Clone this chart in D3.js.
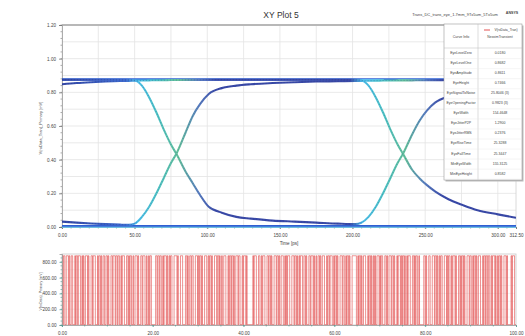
<!DOCTYPE html>
<html><head><meta charset="utf-8">
<script src="https://cdn.jsdelivr.net/npm/d3@7"></script>
<style>
body{margin:0;background:#fff;}
svg{display:block;font-family:"Liberation Sans Narrow","Liberation Sans",Arial,sans-serif;}
</style>
</head><body><svg id="c" width="525" height="336"></svg>
<script>
// ---------------- DATA ----------------
const eyeTime = [0,10,20,30,40,46,50,55,60,65,70,75,79,85,90,95,101,110,120,130,145,160,175,190,202,206,211,216,221,226,231,235,241,246,251,257,266,276,286,300,312.5];
// trace: previous rise tail -> high -> second falling edge
const traceA = [0.848,0.855,0.860,0.864,0.867,0.868,0.869,0.870,0.871,0.872,0.872,0.873,0.873,0.874,0.874,0.874,0.875,0.875,0.875,0.875,0.875,0.875,0.875,0.875,0.875,0.872,0.84,0.77,0.68,0.58,0.49,0.43,0.34,0.29,0.25,0.21,0.165,0.13,0.10,0.075,0.055];
// trace: high -> first falling edge -> low tail -> second rising edge
const traceB = [0.875,0.875,0.875,0.875,0.875,0.875,0.872,0.84,0.77,0.68,0.58,0.49,0.43,0.33,0.26,0.19,0.12,0.085,0.06,0.05,0.038,0.032,0.026,0.02,0.017,0.025,0.06,0.12,0.20,0.29,0.38,0.44,0.55,0.63,0.69,0.74,0.775,0.795,0.81,0.822,0.83];
// trace: previous fall tail -> first rising edge -> high
const traceC = [0.032,0.026,0.021,0.017,0.014,0.013,0.02,0.06,0.12,0.20,0.29,0.38,0.44,0.56,0.66,0.73,0.79,0.825,0.84,0.848,0.855,0.86,0.864,0.866,0.868,0.868,0.869,0.869,0.87,0.87,0.871,0.871,0.871,0.872,0.872,0.872,0.873,0.873,0.874,0.874,0.874];
const levelHigh = 0.876;
const levelLow = 0.007;
const levelLow2 = 0.0;

const eyeYTicks = [0,0.2,0.4,0.6,0.8,1.0,1.2];
const eyeXTicks = [0,50,100,150,200,250,300,312.5];

const statNames = ["EyeLevelZero","EyeLevelOne","EyeAmplitude","EyeHeight","EyeSignalToNoise","EyeOpeningFactor","EyeWidth","EyeJitterP2P","EyeJitterRMS","EyeRiseTime","EyeFallTime","MinEyeWidth","MinEyeHeight"];
const statValues = ["0.0180","0.8682","0.8611","0.7466","25.8046 (3)","0.9823 (3)","154.4648","1.2900","0.2376","25.3288","25.3447","155.3125","0.8582"];

// bit stream of the time-domain waveform (bottom plot)
const bitRows = [
"1011001110100110001011011100101001110100",
"0110111000101101001100110100011011101101",
"1001011100011010110010011101000110111001",
"0010110000001101101100101110100101100011",
"1101000111000011010011011000111010110100",
"0111001011010001110110100100111000101101",
"1010011101100010111010000000010111000110",
"0101110001101101000111011010011100101011",
"1000111011010010111001101000110111010010",
"0110100111000101101110010110100011101100",
"1011010001111110010110100111000101101001",
"0100111010110001101001110110100010111010",
"1101001011100011010110010000001101000110",
"0011101101001011000111010110010111010001",
"1010110100011101100101101001110001011011",
"0110010111010010110100011101000001011100"
];
const bitTimeNs = 0.15625;
const bitHighMv = 878;
const bitLowMv = 4;
const wfYTicks = [0,200,400,600,800];
const wfXTicks = [0,20,40,60,80,100];

// ---------------- DRAW ----------------
const svg = d3.select("#c");
const P1 = {l:62, r:516, t:25, b:227};
const P2 = {l:62, r:516, t:254, b:325};

const x1 = d3.scaleLinear().domain([0,312.5]).range([P1.l, P1.r]);
const y1 = d3.scaleLinear().domain([0,1.2]).range([P1.b, P1.t]);
const x2 = d3.scaleLinear().domain([0,100]).range([P2.l, P2.r]);
const y2 = d3.scaleLinear().domain([0,900]).range([P2.b, P2.t]);

const defs = svg.append("defs");
defs.append("clipPath").attr("id","cp1").append("rect")
  .attr("x",P1.l).attr("y",P1.t-2).attr("width",P1.r-P1.l).attr("height",P1.b-P1.t+4);
defs.append("clipPath").attr("id","cp2").append("rect")
  .attr("x",P2.l).attr("y",P2.t).attr("width",P2.r-P2.l).attr("height",P2.b-P2.t);

// Title and header texts
svg.append("text").attr("x",281).attr("y",18).attr("text-anchor","middle")
  .attr("font-size",8.5).attr("fill","#333").text("XY Plot 5");
svg.append("text").attr("x",455).attr("y",16).attr("text-anchor","middle")
  .attr("font-size",4).attr("fill","#444").text("Trans_DC_trans_eye_1.7mm_9Tx5um_5Tx5um");
svg.append("text").attr("x",512).attr("y",14).attr("text-anchor","middle")
  .attr("font-size",3.6).attr("fill","#444").attr("font-weight","bold").text("ANSYS");

// ---- top plot grid ----
const g1 = svg.append("g");
g1.selectAll("line.hg").data(d3.range(0,1.2001,0.1)).join("line")
  .attr("x1",P1.l).attr("x2",P1.r).attr("y1",d=>y1(d)).attr("y2",d=>y1(d))
  .attr("stroke","#e3e3e3").attr("stroke-width",0.8);
g1.selectAll("line.vg").data(d3.range(0,312.5,25)).join("line")
  .attr("y1",P1.t).attr("y2",P1.b).attr("x1",d=>x1(d)).attr("x2",d=>x1(d))
  .attr("stroke","#e3e3e3").attr("stroke-width",0.8);
g1.append("line").attr("x1",P1.l).attr("x2",P1.r).attr("y1",P1.t).attr("y2",P1.t)
  .attr("stroke","#b8b8b8").attr("stroke-width",1.8);
g1.append("line").attr("x1",P1.r).attr("x2",P1.r).attr("y1",P1.t).attr("y2",P1.b)
  .attr("stroke","#d0d0d0").attr("stroke-width",0.8);

const ax1 = svg.append("g").attr("transform",`translate(${P1.l},0)`)
  .call(d3.axisLeft(y1).tickValues(eyeYTicks).tickFormat(d3.format(".2f")).tickSize(3).tickPadding(3));
const bx1 = svg.append("g").attr("transform",`translate(0,${P1.b})`)
  .call(d3.axisBottom(x1).tickValues(eyeXTicks).tickFormat(d3.format(".2f")).tickSize(2).tickPadding(5));
svg.append("g").selectAll("line").data(d3.range(0,1.2001,0.04)).join("line")
  .attr("x1",P1.l-1.5).attr("x2",P1.l).attr("y1",d=>y1(d)).attr("y2",d=>y1(d))
  .attr("stroke","#777").attr("stroke-width",0.6);
svg.append("g").selectAll("line").data(d3.range(0,312.5,6.25)).join("line")
  .attr("x1",d=>x1(d)).attr("x2",d=>x1(d)).attr("y1",P1.b).attr("y2",P1.b+1.5)
  .attr("stroke","#777").attr("stroke-width",0.6);

[ax1,bx1].forEach(a=>{
  a.selectAll("path.domain").attr("stroke","#999").attr("stroke-width",0.8);
  a.selectAll(".tick line").attr("stroke","#666").attr("stroke-width",0.7);
  a.selectAll("text").attr("font-size",4.6).attr("fill","#444")
   .attr("font-family","'Liberation Sans Narrow','Liberation Sans',Arial,sans-serif");
});

svg.append("text").attr("x",(P1.l+P1.r)/2).attr("y",245).attr("text-anchor","middle")
  .attr("font-size",4.6).attr("fill","#444").text("Time [ps]");
svg.append("text").attr("transform",`translate(42,${(P1.t+P1.b)/2+2}) rotate(-90)`)
  .attr("text-anchor","middle").attr("font-size",4).attr("fill","#555")
  .text("V(rxData_Tran)_Primary [mV]");

// gradient for transition traces
const gradStops = [[0,"#3447a6"],[44,"#3f6cd0"],[52,"#4cc0ea"],[66,"#4fc4c4"],[80,"#66c39c"],[94,"#5a7fc0"],[106,"#3a4aa8"],[198,"#3a4aa8"],[207,"#4cc0ea"],[222,"#4fc4c4"],[236,"#66c39c"],[250,"#5a7fc0"],[262,"#3a4aa8"],[312.5,"#3a4aa8"]];
const grad = defs.append("linearGradient").attr("id","edgeGrad")
  .attr("gradientUnits","userSpaceOnUse")
  .attr("x1",x1(0)).attr("x2",x1(312.5)).attr("y1",0).attr("y2",0);
grad.selectAll("stop").data(gradStops).join("stop")
  .attr("offset",d=>d[0]/312.5).attr("stop-color",d=>d[1]);

const eyeG = svg.append("g").attr("clip-path","url(#cp1)");
eyeG.append("line").attr("x1",x1(0)).attr("x2",x1(312.5)).attr("y1",y1(levelLow2)).attr("y2",y1(levelLow2))
  .attr("stroke","#5ec6f0").attr("stroke-width",1.6);
eyeG.append("line").attr("x1",x1(0)).attr("x2",x1(312.5)).attr("y1",y1(levelLow)).attr("y2",y1(levelLow))
  .attr("stroke","#2f5fd2").attr("stroke-width",1.8);
eyeG.append("line").attr("x1",x1(0)).attr("x2",x1(312.5)).attr("y1",y1(levelHigh)).attr("y2",y1(levelHigh))
  .attr("stroke","#2f62d6").attr("stroke-width",2.6);
eyeG.append("line").attr("x1",x1(110)).attr("x2",x1(250)).attr("y1",y1(levelHigh)).attr("y2",y1(levelHigh))
  .attr("stroke","#66c0f2").attr("stroke-width",1).attr("stroke-dasharray","30,14");

const eyeLine = vals => d3.line().curve(d3.curveMonotoneX)
  .x((d,i)=>x1(eyeTime[i])).y(d=>y1(d))(vals);
[traceA, traceC, traceB].forEach(tr=>{
  eyeG.append("path").attr("d",eyeLine(tr)).attr("fill","none")
    .attr("stroke","url(#edgeGrad)").attr("stroke-width",2.1);
});
[traceA, traceC, traceB].forEach(tr=>{
  eyeG.append("path").attr("d",eyeLine(tr)).attr("fill","none")
    .attr("stroke","#22307a").attr("stroke-width",0.6).attr("stroke-dasharray","1,2").attr("opacity",0.5);
});

// ---- legend table ----
const lg = svg.append("g");
const lx = 444, ly = 24, lw = 78, lh = 156, colX = 478;
lg.append("rect").attr("x",lx+1.5).attr("y",ly+1.5).attr("width",lw).attr("height",lh).attr("fill","#bbb");
lg.append("rect").attr("x",lx).attr("y",ly).attr("width",lw).attr("height",lh)
  .attr("fill","#fff").attr("stroke","#999").attr("stroke-width",0.6);
lg.append("line").attr("x1",lx).attr("x2",lx+lw).attr("y1",ly+24).attr("y2",ly+24).attr("stroke","#bbb").attr("stroke-width",0.5);
lg.append("line").attr("x1",colX).attr("x2",colX).attr("y1",ly).attr("y2",ly+lh).attr("stroke","#bbb").attr("stroke-width",0.5);
lg.append("text").attr("x",(lx+colX)/2).attr("y",ly+14).attr("text-anchor","middle").attr("font-size",3.6).attr("fill","#444").text("Curve Info");
lg.append("line").attr("x1",484).attr("x2",490).attr("y1",ly+6).attr("y2",ly+6).attr("stroke","#e04040").attr("stroke-width",0.9);
lg.append("text").attr("x",506).attr("y",ly+7.3).attr("text-anchor","middle").attr("font-size",3.4).attr("fill","#444").text("V(rxData_Tran)");
lg.append("text").attr("x",(colX+lx+lw)/2).attr("y",ly+14).attr("text-anchor","middle").attr("font-size",3.4).attr("fill","#444").text("NexximTransient");
statNames.forEach((n,i)=>{
  const yy = ly+30 + i*10.05;
  lg.append("text").attr("x",(lx+colX)/2).attr("y",yy).attr("text-anchor","middle").attr("font-size",3.5).attr("fill","#444").text(n);
  lg.append("text").attr("x",(colX+lx+lw)/2).attr("y",yy).attr("text-anchor","middle").attr("font-size",3.5).attr("fill","#444").text(statValues[i]);
  lg.append("line").attr("x1",lx).attr("x2",lx+lw).attr("y1",yy+4.6).attr("y2",yy+4.6).attr("stroke","#e6e6e6").attr("stroke-width",0.4);
});

// ---- bottom plot ----
const g2 = svg.append("g");
g2.append("rect").attr("x",P2.l).attr("y",P2.t).attr("width",P2.r-P2.l).attr("height",P2.b-P2.t)
  .attr("fill","none").attr("stroke","#c8c8c8").attr("stroke-width",0.8);
g2.selectAll("line.hg").data(d3.range(100,900,100)).join("line")
  .attr("x1",P2.l).attr("x2",P2.r).attr("y1",d=>y2(d)).attr("y2",d=>y2(d))
  .attr("stroke","#ececec").attr("stroke-width",0.6);

const bits = bitRows.join("");
const wfPts = [];
for (let i=0;i<bits.length;i++) wfPts.push([i*bitTimeNs, bits[i]==="1"?bitHighMv:bitLowMv]);
wfPts.push([bits.length*bitTimeNs, wfPts[wfPts.length-1][1]]);
svg.append("g").attr("clip-path","url(#cp2)").append("path")
  .attr("d", d3.line().curve(d3.curveStepAfter).x(d=>x2(d[0])).y(d=>y2(d[1]))(wfPts))
  .attr("fill","none").attr("stroke","#e04444").attr("stroke-width",0.7).attr("opacity",0.85);

const ax2 = svg.append("g").attr("transform",`translate(${P2.l},0)`)
  .call(d3.axisLeft(y2).tickValues(wfYTicks).tickFormat(d3.format(".2f")).tickSize(2.5).tickPadding(3));
const bx2 = svg.append("g").attr("transform",`translate(0,${P2.b})`)
  .call(d3.axisBottom(x2).tickValues(wfXTicks).tickFormat(d3.format(".2f")).tickSize(2).tickPadding(5));
svg.append("g").selectAll("line").data(d3.range(0,900,50)).join("line")
  .attr("x1",P2.l-1.5).attr("x2",P2.l).attr("y1",d=>y2(d)).attr("y2",d=>y2(d))
  .attr("stroke","#4a9a90").attr("stroke-width",0.6);
svg.append("g").selectAll("line").data(d3.range(0,100,5)).join("line")
  .attr("x1",d=>x2(d)).attr("x2",d=>x2(d)).attr("y1",P2.b).attr("y2",P2.b+1.5)
  .attr("stroke","#4a9a90").attr("stroke-width",0.6);
[ax2,bx2].forEach(a=>{
  a.selectAll("path.domain").attr("stroke","#999").attr("stroke-width",0.8);
  a.selectAll(".tick line").attr("stroke","#4a9a90").attr("stroke-width",0.7);
  a.selectAll("text").attr("font-size",4.6).attr("fill","#444")
   .attr("font-family","'Liberation Sans Narrow','Liberation Sans',Arial,sans-serif");
});
svg.append("text").attr("transform",`translate(42,${(P2.t+P2.b)/2+2}) rotate(-90)`)
  .attr("text-anchor","middle").attr("font-size",3.6).attr("fill","#555")
  .text("V(rxData)_Primary [mV]");
</script>
</body></html>
